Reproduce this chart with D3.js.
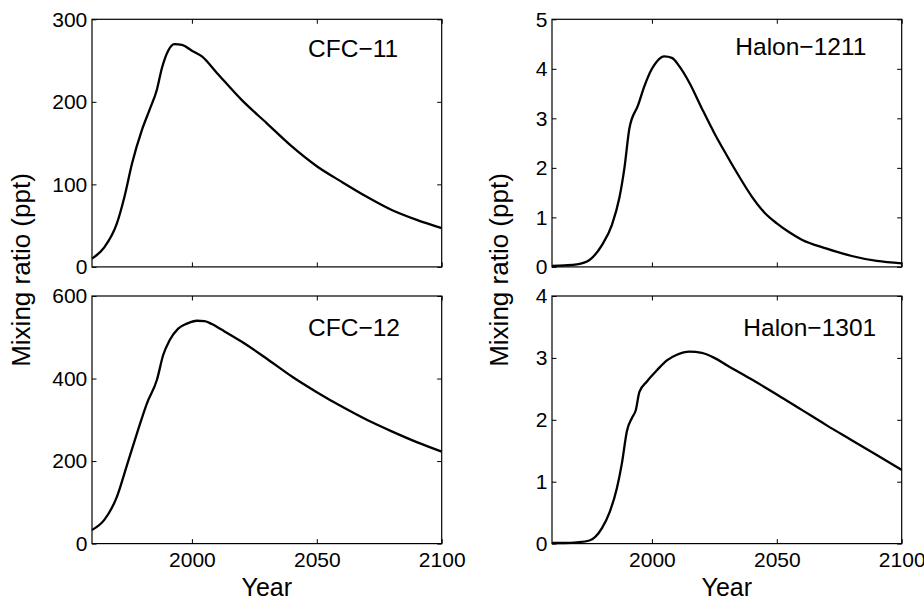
<!DOCTYPE html>
<html>
<head>
<meta charset="utf-8">
<script src="https://cdn.jsdelivr.net/npm/d3@7"></script>
<style>
  body { margin: 0; background: #fff; }
  svg { display: block; font-family: "Liberation Sans", Arial, sans-serif; }
</style>
</head>
<body>
<div id="chart"></div>
<script>
// years and mixing ratios (ppt)
var cfc11Years = [1960, 1965, 1970, 1973, 1976, 1980, 1983, 1986, 1988, 1990.5, 1993, 1996, 2000, 2004, 2010, 2020, 2030, 2040, 2050, 2060, 2070, 2080, 2090, 2100];
var cfc11Values = [10, 24, 53, 85, 125, 166, 190, 215, 241, 262, 270, 269, 262, 255, 235, 202, 174, 146, 122, 103, 85, 69, 57, 47];

var cfc12Years = [1960, 1965, 1970, 1974, 1978, 1982, 1986, 1988.5, 1991, 1994.5, 1998, 2002, 2005, 2008, 2012, 2020, 2030, 2040, 2050, 2060, 2070, 2080, 2090, 2100];
var cfc12Values = [33, 58, 114, 190, 267, 340, 397, 457, 492, 521, 533, 540, 539, 532, 518, 489, 448, 405, 367, 332, 300, 272, 246, 223];

var h1211Years = [1960, 1965, 1970, 1975, 1980, 1984, 1987, 1989, 1991, 1994.5, 1997, 2000, 2002, 2005, 2008, 2011, 2015, 2020, 2025, 2030, 2035, 2040, 2045, 2050, 2055, 2060, 2070, 2080, 2090, 2100];
var h1211Values = [0.02, 0.03, 0.05, 0.14, 0.44, 0.85, 1.4, 2.0, 2.8, 3.27, 3.65, 4.0, 4.15, 4.25, 4.22, 4.05, 3.72, 3.2, 2.7, 2.25, 1.82, 1.42, 1.1, 0.88, 0.7, 0.55, 0.37, 0.22, 0.12, 0.07];

var h1301Years = [1960, 1965, 1970, 1975, 1980, 1983, 1986, 1988, 1990, 1992, 1993.5, 1995, 1998, 2002, 2006, 2010, 2015, 2020, 2025, 2030, 2040, 2050, 2060, 2070, 2080, 2090, 2100];
var h1301Values = [0.01, 0.01, 0.02, 0.05, 0.25, 0.5, 0.9, 1.3, 1.82, 2.03, 2.15, 2.45, 2.62, 2.8, 2.96, 3.05, 3.1, 3.08, 3.0, 2.88, 2.65, 2.41, 2.16, 1.91, 1.67, 1.43, 1.19];

var gasNames = ["CFC\u221211", "Halon\u22121211", "CFC\u221212", "Halon\u22121301"];
var yMaxes = [300, 5, 600, 4];
var yTickValues = [[0, 100, 200, 300], [0, 1, 2, 3, 4, 5], [0, 200, 400, 600], [0, 1, 2, 3, 4]];
var xTickValues = [2000, 2050, 2100];
var labelYears = [2046.5, 2033.4, 2046.5, 2036.6];
var labelValues = [265, 4.45, 525, 3.5];

var width = 924, height = 601;
var panels = [
  { left: 92, top: 19.3, years: cfc11Years, values: cfc11Values },
  { left: 552, top: 19.3, years: h1211Years, values: h1211Values },
  { left: 92, top: 296, years: cfc12Years, values: cfc12Values },
  { left: 552, top: 296, years: h1301Years, values: h1301Values }
];
var pw = 349.7, ph = 247.6;

var svg = d3.select('#chart').append('svg')
    .attr('width', width)
    .attr('height', height);

svg.append('rect').attr('width', width).attr('height', height).attr('fill', '#fff');

panels.forEach(function (p, i) {
    var x = d3.scaleLinear().domain([1960, 2100]).range([0, pw]);
    var y = d3.scaleLinear().domain([0, yMaxes[i]]).range([ph, 0]);

    var g = svg.append('g').attr('transform', 'translate(' + p.left + ',' + p.top + ')');

    var bottom = i >= 2;

    // ticks point inward on all four sides
    var ax = g.append('g').attr('transform', 'translate(0,' + ph + ')')
        .call(d3.axisBottom(x).tickValues(xTickValues).tickSizeInner(-4.5).tickSizeOuter(0)
            .tickPadding(8.5).tickFormat(d3.format('d')));
    if (!bottom) ax.selectAll('text').remove();

    g.append('g')
        .call(d3.axisTop(x).tickValues(xTickValues).tickSizeInner(-4.5).tickSizeOuter(0).tickFormat(''));

    g.append('g')
        .call(d3.axisLeft(y).tickValues(yTickValues[i]).tickSizeInner(-4.5).tickSizeOuter(0)
            .tickPadding(4.7).tickFormat(d3.format('d')));

    g.append('g').attr('transform', 'translate(' + pw + ',0)')
        .call(d3.axisRight(y).tickValues(yTickValues[i]).tickSizeInner(-4.5).tickSizeOuter(0).tickFormat(''));

    g.selectAll('.domain').remove();
    g.selectAll('.tick line').attr('stroke', '#000').attr('stroke-width', 1);
    g.selectAll('.tick text')
        .attr('fill', '#000')
        .style('font-size', '21px')
        .style('font-family', '"Liberation Sans", Arial, sans-serif');

    g.append('rect')
        .attr('width', pw).attr('height', ph)
        .attr('fill', 'none')
        .attr('stroke', '#000')
        .attr('stroke-width', 1.2);

    var pts = p.years.map(function (yr, k) { return [yr, p.values[k]]; });
    var line = d3.line()
        .x(function (d) { return x(d[0]); })
        .y(function (d) { return y(d[1]); })
        .curve(d3.curveMonotoneX);

    g.append('path')
        .datum(pts)
        .attr('d', line)
        .attr('fill', 'none')
        .attr('stroke', '#000')
        .attr('stroke-width', 2.3)
        .attr('stroke-linejoin', 'round');

    g.append('text')
        .attr('x', x(labelYears[i]))
        .attr('y', y(labelValues[i]))
        .attr('dy', '0.35em')
        .style('font-size', '24.5px')
        .attr('fill', '#000')
        .text(gasNames[i]);
});

// axis titles
[92, 552].forEach(function (l) {
    svg.append('text')
        .attr('x', l + pw / 2)
        .attr('y', 596)
        .attr('text-anchor', 'middle')
        .style('font-size', '25px')
        .text('Year');
});

[30, 508].forEach(function (cx) {
    svg.append('text')
        .attr('transform', 'translate(' + cx + ',270) rotate(-90)')
        .attr('text-anchor', 'middle')
        .style('font-size', '26px')
        .text('Mixing ratio (ppt)');
});
</script>
</body>
</html>
